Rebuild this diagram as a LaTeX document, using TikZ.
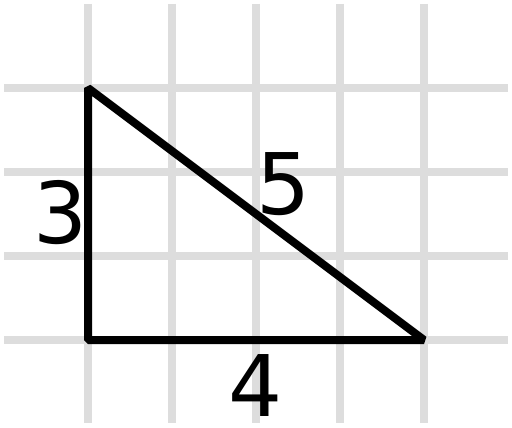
\documentclass[tikz,border=0pt]{standalone}
\usepackage{fontspec}
\setmainfont{DejaVu Sans}
\definecolor{gridgray}{HTML}{DDDDDD}
\begin{document}
\begin{tikzpicture}[x=1pt,y=-1pt,
  gridline/.style={draw=gridgray,line width=8pt},
  edge/.style={draw=black,line width=8pt,line join=bevel},
  lbl/.style={inner sep=0pt,font=\fontsize{85}{100}\selectfont}]
\useasboundingbox (0,0) rectangle (512,428);
\foreach \x in {88,172,256,340,424} \draw[gridline] (\x,4) -- (\x,423);
\foreach \y in {88,172,256,340} \draw[gridline] (4,\y) -- (508,\y);
\coordinate (A) at (88,88);
\coordinate (B) at (88,340);
\coordinate (C) at (424,340);
\draw[edge] (A) -- (B) -- (C) -- cycle;
\node[lbl] (l3) at (61,213) {3};
\node[lbl] (l5) at (284,184) {5};
\node[lbl] (l4) at (256,386) {4};
\end{tikzpicture}
\end{document}
